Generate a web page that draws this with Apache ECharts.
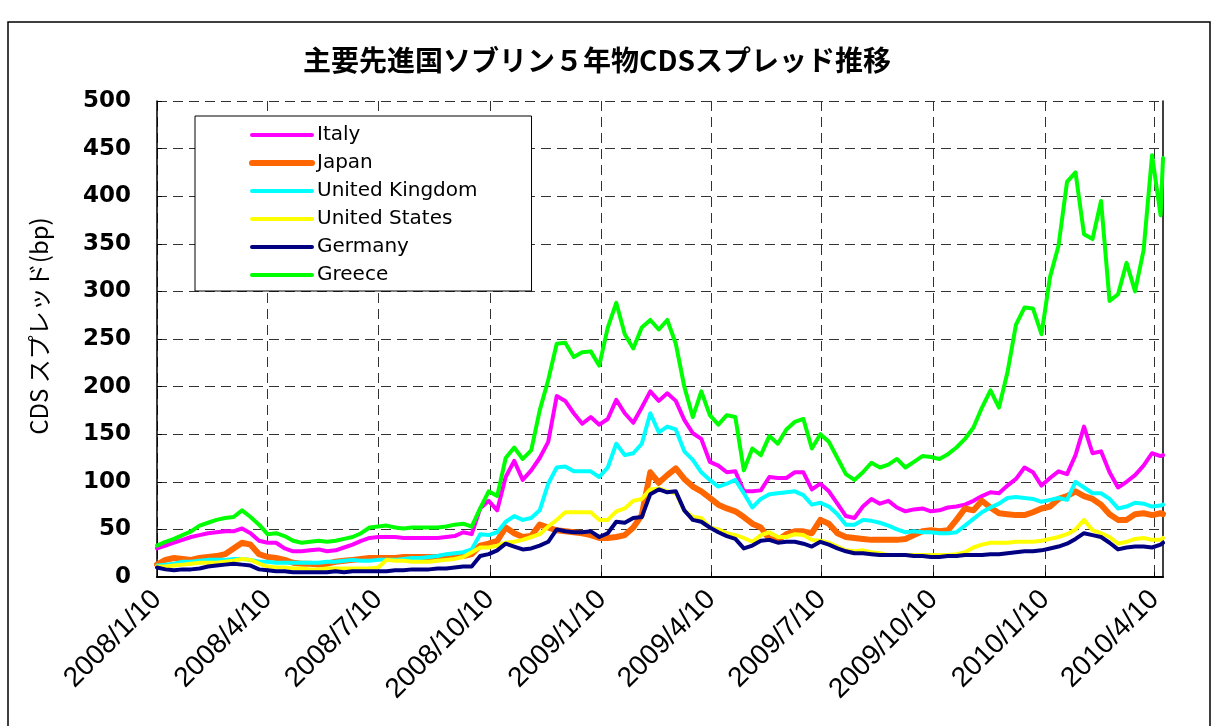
<!DOCTYPE html>
<html>
<head>
<meta charset="utf-8">
<script src="https://cdn.jsdelivr.net/npm/echarts@6/dist/echarts.min.js"></script>
<style>
  html, body {margin: 0; padding: 0; background: #fff;}
  #chart {width: 1215px; height: 726px;}
</style>
</head>
<body>
<div id="chart"></div>
<script>
// 週次（木曜）の日付
var dates = [
  '2008-01-10','2008-01-17','2008-01-24','2008-01-31','2008-02-07','2008-02-14','2008-02-21','2008-02-28','2008-03-06','2008-03-13',
  '2008-03-20','2008-03-27','2008-04-03','2008-04-10','2008-04-17','2008-04-24','2008-05-01','2008-05-08','2008-05-15','2008-05-22',
  '2008-05-29','2008-06-05','2008-06-12','2008-06-19','2008-06-26','2008-07-03','2008-07-10','2008-07-17','2008-07-24','2008-07-31',
  '2008-08-07','2008-08-14','2008-08-21','2008-08-28','2008-09-04','2008-09-11','2008-09-18','2008-09-25','2008-10-02','2008-10-09',
  '2008-10-16','2008-10-23','2008-10-30','2008-11-06','2008-11-13','2008-11-20','2008-11-27','2008-12-04','2008-12-11','2008-12-18',
  '2008-12-25','2009-01-01','2009-01-08','2009-01-15','2009-01-22','2009-01-29','2009-02-05','2009-02-12','2009-02-19','2009-02-26',
  '2009-03-05','2009-03-12','2009-03-19','2009-03-26','2009-04-02','2009-04-09','2009-04-16','2009-04-23','2009-04-30','2009-05-07',
  '2009-05-14','2009-05-21','2009-05-28','2009-06-04','2009-06-11','2009-06-18','2009-06-25','2009-07-02','2009-07-09','2009-07-16',
  '2009-07-23','2009-07-30','2009-08-06','2009-08-13','2009-08-20','2009-08-27','2009-09-03','2009-09-10','2009-09-17','2009-09-24',
  '2009-10-01','2009-10-08','2009-10-15','2009-10-22','2009-10-29','2009-11-05','2009-11-12','2009-11-19','2009-11-26','2009-12-03',
  '2009-12-10','2009-12-17','2009-12-24','2009-12-31','2010-01-07','2010-01-14','2010-01-21','2010-01-28','2010-02-04','2010-02-11',
  '2010-02-18','2010-02-25','2010-03-04','2010-03-11','2010-03-18','2010-03-25','2010-04-01','2010-04-08','2010-04-15','2010-04-17'
];

var italy = [
  30, 33, 36, 39, 42, 44, 46, 47, 48, 48,
  51, 46, 38, 36, 36, 30, 27, 27, 28, 29,
  27, 28, 31, 34, 38, 41, 42, 42, 42, 41,
  41, 41, 41, 41, 42, 43, 47, 45, 72, 80,
  70, 105, 122, 102, 112, 125, 142, 190, 185, 172,
  161, 168, 160, 166, 186, 172, 162, 178, 195, 185,
  193, 185, 165, 151, 145, 121, 117, 110, 111, 90,
  90, 91, 105, 104, 104, 110, 110, 92, 98, 90,
  77, 64, 62, 74, 82, 77, 80, 73, 69, 71,
  72, 69, 70, 73, 74, 76, 80, 85, 89, 88,
  96, 103, 115, 110, 96, 104, 111, 108, 128, 158,
  130, 132, 110, 94, 100, 107, 117, 130, 127, 128
];
var japan = [
  13, 18, 20, 19, 18, 20, 21, 22, 24, 30,
  36, 34, 24, 21, 20, 18, 15, 14, 14, 13,
  14, 16, 17, 18, 19, 20, 20, 20, 20, 21,
  21, 21, 21, 21, 22, 22, 22, 24, 33, 35,
  38, 52, 46, 42, 43, 55, 52, 49, 48, 47,
  46, 44, 41, 41, 42, 44, 52, 65, 110, 99,
  107, 114, 103, 95, 90, 83, 76, 72, 69, 63,
  56, 52, 40, 39, 45, 48, 48, 46, 60, 56,
  46, 42, 41, 40, 39, 39, 39, 39, 40, 44,
  48, 49, 48, 49, 60, 72, 70, 80, 73, 67,
  66, 65, 65, 68, 72, 74, 82, 85, 90, 85,
  82, 76, 66, 60, 60, 66, 67, 65, 67, 66
];
var uk = [
  12, 13, 14, 16, 16, 17, 18, 18, 18, 19,
  19, 18, 16, 16, 15, 15, 15, 15, 15, 15,
  16, 16, 17, 18, 17, 17, 18, 18, 18, 19,
  20, 20, 21, 22, 24, 25, 26, 29, 45, 44,
  47, 58, 64, 60, 62, 70, 98, 115, 116, 111,
  111, 111, 105, 115, 140, 128, 130, 140, 172, 152,
  158, 155, 132, 123, 110, 102, 95, 98, 102, 88,
  73, 82, 87, 88, 89, 90, 86, 76, 78, 74,
  66, 55, 55, 60, 59, 57, 54, 50, 47, 48,
  47, 47, 46, 46, 47, 54, 61, 68, 73, 77,
  83, 84, 83, 82, 79, 81, 83, 81, 100, 94,
  88, 88, 82, 72, 74, 78, 77, 74, 75, 76
];
var us = [
  11, 11, 12, 13, 14, 15, 15, 15, 16, 17,
  19, 18, 14, 11, 10, 10, 9, 9, 8, 8,
  9, 9, 9, 9, 9, 9, 10, 18, 17, 17,
  16, 16, 16, 17, 18, 19, 21, 26, 31, 31,
  33, 36, 37, 39, 42, 45, 53, 60, 68, 68,
  68, 68, 60, 60, 69, 72, 80, 82, 92, 93,
  90, 88, 70, 63, 62, 52, 50, 46, 44, 41,
  37, 44, 47, 42, 42, 45, 44, 39, 38, 36,
  32, 28, 27, 28, 26, 25, 23, 23, 23, 23,
  23, 23, 23, 23, 24, 26, 31, 34, 36, 36,
  36, 37, 37, 37, 38, 40, 42, 45, 50, 60,
  49, 46, 42, 35, 37, 40, 41, 39, 39, 41
];
var germany = [
  10, 8, 7, 8, 8, 9, 11, 12, 13, 14,
  13, 12, 8, 7, 6, 6, 5, 5, 5, 5,
  5, 6, 5, 6, 6, 6, 6, 6, 7, 7,
  8, 8, 8, 9, 9, 10, 11, 11, 22, 24,
  28, 35, 32, 29, 30, 33, 37, 50, 48, 47,
  47, 48, 42, 46, 58, 57, 62, 63, 87, 92,
  89, 90, 70, 60, 58, 52, 47, 43, 40, 30,
  33, 38, 39, 36, 37, 37, 35, 32, 37, 34,
  30, 27, 25, 25, 24, 23, 23, 23, 23, 22,
  22, 21, 21, 22, 22, 23, 23, 23, 24, 24,
  25, 26, 27, 27, 28, 30, 32, 35, 40, 46,
  44, 42, 36, 29, 31, 32, 32, 31, 34, 36
];
var greece = [
  33, 37, 40, 44, 48, 54, 57, 60, 62, 63,
  70, 63, 55, 45, 46, 43, 38, 36, 37, 38,
  37, 38, 40, 42, 46, 52, 53, 54, 52, 51,
  52, 52, 52, 52, 53, 55, 56, 53, 72, 90,
  85, 125, 136, 124, 133, 175, 207, 245, 246, 231,
  236, 237, 222, 262, 288, 255, 240, 262, 270, 260,
  270, 245, 200, 168, 195, 170, 160, 170, 168, 112,
  135, 128, 148, 140, 155, 163, 166, 135, 150, 142,
  125, 108, 102, 110, 120, 115, 118, 124, 115, 121,
  127, 126, 124, 129, 136, 145, 157, 178, 196, 178,
  215, 265, 283, 282, 255, 315, 348, 415, 425, 360,
  355, 395, 290, 297, 330, 300, 343, 443, 380, 440
];

var tickLabels = ['2008/1/10','2008/4/10','2008/7/10','2008/10/10','2009/1/10',
  '2009/4/10','2009/7/10','2009/10/10','2010/1/10','2010/4/10'];

var names = ['Italy', 'Japan', 'United Kingdom', 'United States', 'Germany', 'Greece'];
var colors = ['#ff00ff', '#ff6600', '#00ffff', '#ffff00', '#000080', '#00ff00'];
var widths = [4, 6, 4, 4, 4, 4];
var values = [italy, japan, uk, us, germany, greece];

function toTime(s) {
  return +echarts.time.parse(s);
}
var tickValues = tickLabels.map(toTime);
var dateValues = dates.map(toTime);

var chart = echarts.init(document.getElementById('chart'));

var series = names.map(function (n, k) {
  return {
    name: n,
    type: 'line',
    symbol: 'none',
    data: dateValues.map(function (d, i) { return [d, values[k][i]]; }),
    itemStyle: {color: colors[k]},
    lineStyle: {color: colors[k], width: widths[k], join: 'round', cap: 'round'},
    emphasis: {disabled: true}
  };
});

var dashed = {type: [10, 6], color: '#333', width: 1};

var option = {
  animation: false,
  backgroundColor: '#fff',
  graphic: [{
    type: 'rect',
    shape: {x: 8, y: 22, width: 1202, height: 730},
    style: {fill: 'none', stroke: '#000', lineWidth: 1.5},
    silent: true
  }],
  title: {
    text: '主要先進国ソブリン５年物CDSスプレッド推移',
    left: 592,
    top: 41,
    textAlign: 'center',
    textStyle: {fontFamily: 'Noto Sans CJK JP', fontWeight: 'bold', fontSize: 28, color: '#000'}
  },
  legend: {
    orient: 'vertical',
    left: 195,
    top: 116,
    padding: [9, 54, 6, 54],
    itemWidth: 60,
    itemHeight: 14,
    itemGap: 8,
    borderColor: '#000',
    borderWidth: 1,
    backgroundColor: '#fff',
    selectedMode: false,
    itemStyle: {opacity: 0},
    lineStyle: {width: 'inherit'},
    textStyle: {fontFamily: 'DejaVu Sans', fontSize: 20, color: '#000'},
    data: names
  },
  grid: {left: 157, right: 52, top: 101, bottom: 149},
  xAxis: {
    type: 'value',
    min: toTime('2008/1/10'),
    max: toTime('2010/4/17'),
    axisLine: {lineStyle: {color: '#000', width: 2}},
    axisTick: {show: true, inside: true, length: 5, customValues: tickValues, lineStyle: {color: '#000'}},
    axisLabel: {
      customValues: tickValues,
      rotate: 45,
      margin: 18,
      hideOverlap: false,
      fontFamily: 'Liberation Sans',
      fontSize: 28,
      color: '#000',
      formatter: function (v) {
        var i = tickValues.indexOf(v);
        return i >= 0 ? tickLabels[i] : '';
      }
    },
    splitLine: {show: true, lineStyle: dashed}
  },
  yAxis: [{
    type: 'value',
    min: 0,
    max: 500,
    interval: 50,
    name: 'CDS スプレッド(bp)',
    nameLocation: 'middle',
    nameRotate: 90,
    nameGap: 106,
    nameTextStyle: {fontFamily: 'Noto Sans CJK JP', fontSize: 24, color: '#000', padding: [0, 0, 0, 26]},
    axisLine: {show: true, lineStyle: {color: '#000', width: 1.5}},
    axisTick: {show: true, inside: true, length: 5, lineStyle: {color: '#000'}},
    axisLabel: {fontFamily: 'DejaVu Sans', fontWeight: 'bold', fontSize: 23, color: '#000', margin: 26},
    splitLine: {show: true, lineStyle: dashed}
  }, {
    type: 'value',
    min: 0,
    max: 500,
    interval: 50,
    position: 'right',
    axisLine: {show: true, lineStyle: {color: '#000', width: 1.5}},
    axisTick: {show: false},
    axisLabel: {show: false},
    splitLine: {show: false}
  }],
  series: series
};

chart.setOption(option);
</script>
</body>
</html>
